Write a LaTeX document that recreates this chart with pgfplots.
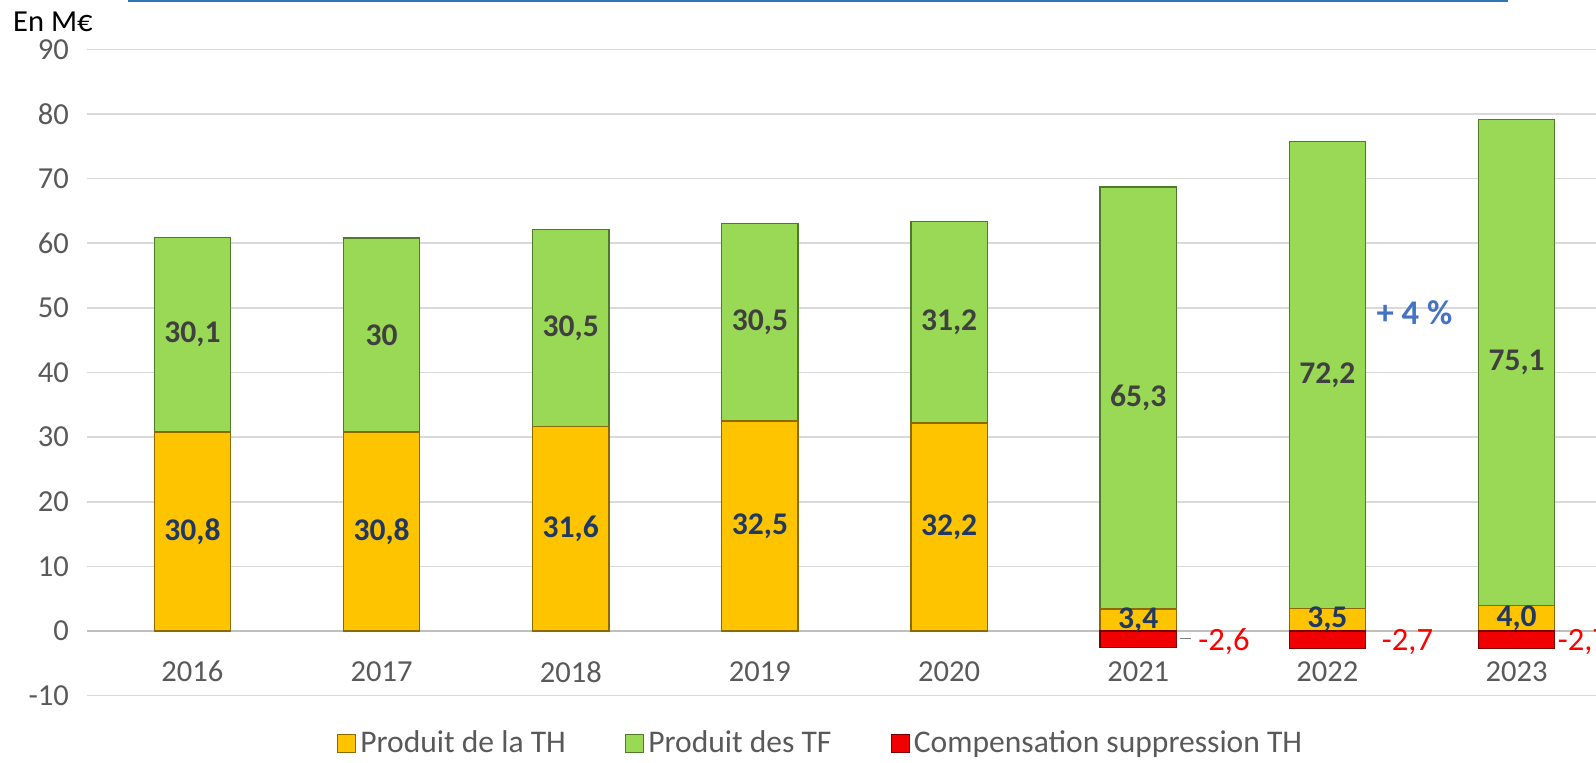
\documentclass[border=0pt]{standalone}
\usepackage{pgfplots}
\pgfplotsset{compat=1.18}
\usepackage{fontspec}
\setmainfont{Carlito}

\definecolor{thY}{HTML}{FFC400}
\definecolor{thYd}{HTML}{8C6A00}
\definecolor{tfG}{HTML}{99D955}
\definecolor{tfGd}{HTML}{4E7A2A}
\definecolor{compR}{HTML}{F00000}
\definecolor{compRd}{HTML}{7A0000}
\definecolor{tickgray}{HTML}{595959}
\definecolor{gridgray}{HTML}{D9D9D9}
\definecolor{navy}{HTML}{203864}
\definecolor{lblgray}{HTML}{404040}
\definecolor{pctblue}{HTML}{4472C4}
\definecolor{topblue}{HTML}{2E75B6}

\pgfplotsset{
  base/.style={
    scale only axis, width=741.5pt, height=317.5pt,
    xmin=-0.56, xmax=7.42, ymin=-10, ymax=90,
    at={(0pt,0pt)}, anchor=south west, clip=false,
  },
  leg/.style={legend image code/.code={\draw[##1, line width=0.5pt] (0pt,-4.5pt) rectangle (9pt,4.5pt);}},
  lbl/.style={draw=none, mark=none, nodes near coords, point meta=explicit symbolic,
    every node near coord/.append style={anchor=center}},
}

\begin{document}
\begin{tikzpicture}
\begin{axis}[base,
  ybar stacked, bar width=37.5pt,
  axis x line*=middle, axis y line*=left,
  x axis line style={draw=gray!50, line width=0.75pt},
  y axis line style={draw=none},
  hide obscured x ticks=false, hide obscured y ticks=false,
  xtick={0,1,2,3,4,5,6,7},
  xticklabels={2016,2017,2018,2019,2020,2021,2022,2023},
  ytick={-10,0,10,20,30,40,50,60,70,80,90},
  major tick length=0pt,
  ymajorgrids, grid style={draw=gridgray, line width=0.75pt},
  /pgf/number format/assume math mode=true,
  xticklabel style={font=\fontsize{15}{17}\selectfont, text=tickgray, anchor=center, yshift=-20pt},
  yticklabel style={font=\fontsize{15}{17}\selectfont, text=tickgray, anchor=east, inner xsep=0pt, xshift=-8.5pt},
  legend style={at={(0.487,-0.074)}, anchor=center, legend columns=3, draw=none, fill=none,
    font=\fontsize{15.5}{17}\selectfont, text=tickgray,
    /tikz/every even column/.append style={column sep=27pt},
    /tikz/every odd column/.append style={column sep=0pt}},
  legend cell align=left,
]
\addplot[fill=thY, draw=thYd, line width=0.6pt, leg] coordinates {
  (0,30.8) (1,30.8) (2,31.6) (3,32.5) (4,32.2) (5,3.4) (6,3.5) (7,4.0)};
\addplot[fill=tfG, draw=tfGd, line width=0.6pt, leg] coordinates {
  (0,30.1) (1,30.0) (2,30.5) (3,30.5) (4,31.2) (5,65.3) (6,72.2) (7,75.1)};
\addlegendimage{fill=compR, draw=compRd, leg}
\legend{Produit de la TH, Produit des TF, Compensation suppression TH}
\end{axis}

\begin{axis}[base, hide axis]
\addplot[ybar, bar shift=0pt, bar width=37.5pt, fill=compR, draw=compRd, line width=0.6pt] coordinates {
  (5,-2.6) (6,-2.7) (7,-2.7)};
% labels TH
\addplot[lbl, every node near coord/.append style={font=\bfseries\fontsize{15.5}{17}\selectfont, text=navy}] coordinates {
  (0,15.4)[{30,8}] (1,15.4)[{30,8}] (2,15.8)[{31,6}] (3,16.25)[{32,5}] (4,16.1)[{32,2}]
  (5,1.7)[{3,4}] (6,1.75)[{3,5}] (7,2.0)[{4,0}]};
% labels TF
\addplot[lbl, every node near coord/.append style={font=\bfseries\fontsize{15.5}{17}\selectfont, text=lblgray}] coordinates {
  (0,45.85)[{30,1}] (1,45.8)[{30}] (2,46.85)[{30,5}] (3,47.75)[{30,5}] (4,47.8)[{31,2}]
  (5,36.05)[{65,3}] (6,39.6)[{72,2}] (7,41.55)[{75,1}]};
% labels compensation
\addplot[lbl, every node near coord/.append style={anchor=west, font=\fontsize{16}{18}\selectfont, text=red}] coordinates {
  (5.28,-1.7)[{-2,6}] (6.25,-1.7)[{-2,7}] (7.18,-1.7)[{-2,7}]};
\draw[gray, line width=0.6pt] (axis cs:5.22,-1.1) -- (axis cs:5.28,-1.1);
\addplot[lbl, every node near coord/.append style={font=\bfseries\fontsize{17}{19}\selectfont, text=pctblue}] coordinates {
  (6.46,49.2)[{+ 4 \%}]};
\end{axis}

\node[font=\fontsize{15}{17}\selectfont, text=black] at (-16.5pt,331pt) {En M€};
\draw[topblue, line width=1pt] (20.5pt,341.25pt) -- (698.5pt,341.25pt);

\pgfresetboundingbox
\useasboundingbox (-42.5pt,-32.75pt) rectangle (741.5pt,341.75pt);
\end{tikzpicture}
\end{document}
